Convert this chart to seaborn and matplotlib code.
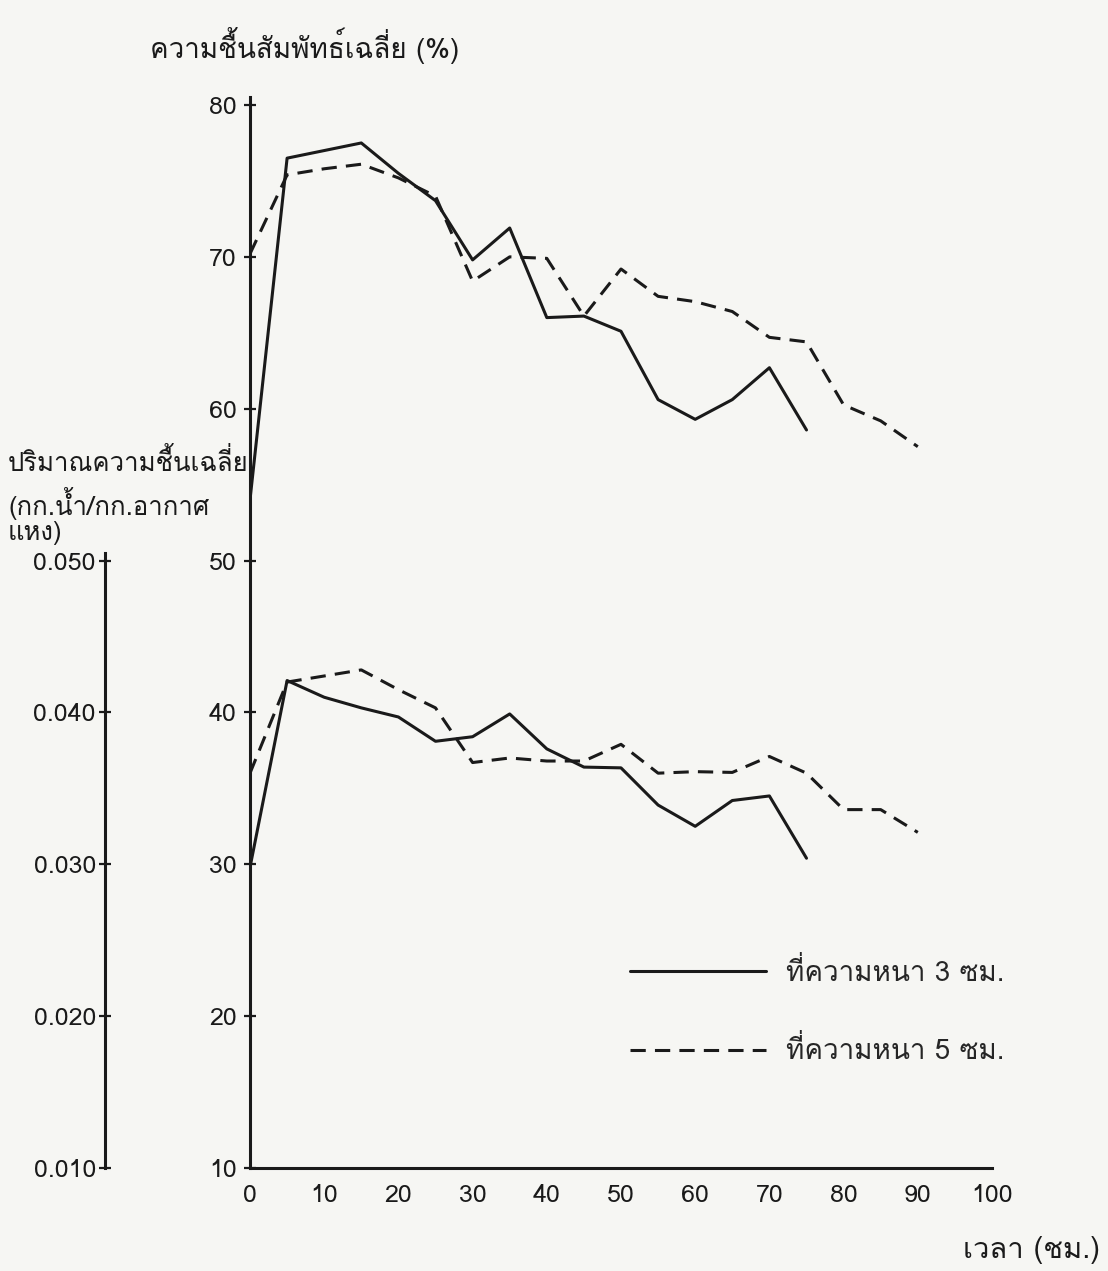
import numpy as np
import pandas as pd
import matplotlib
matplotlib.use("Agg")
import matplotlib.pyplot as plt
import seaborn as sns
from matplotlib import font_manager as fm
from matplotlib.ft2font import FT2Font
from matplotlib.ticker import FormatStrFormatter

# ---------------- data ----------------
time_3cm = [0, 5, 10, 15, 20, 25, 30, 35, 40, 45, 50, 55, 60, 65, 70, 75]
time_5cm = [0, 5, 10, 15, 20, 25, 30, 35, 40, 45, 50, 55, 60, 65, 70, 75, 80, 85, 90]

rh_3cm = [54.0, 76.5, 77.0, 77.5, 75.5, 73.7, 69.8, 71.9, 66.0, 66.1, 65.1,
          60.6, 59.3, 60.6, 62.7, 58.6]
rh_5cm = [70.2, 75.4, 75.8, 76.1, 75.2, 74.0, 68.4, 70.0, 69.9, 66.1, 69.2,
          67.4, 67.05, 66.4, 64.7, 64.4, 60.25, 59.2, 57.5]

hr_3cm = [0.0298, 0.0421, 0.0410, 0.0403, 0.0397, 0.0381, 0.0384, 0.0399,
          0.0376, 0.0364, 0.03635, 0.0339, 0.0325, 0.0342, 0.0345, 0.0304]
hr_5cm = [0.0360, 0.0420, 0.0424, 0.0428, 0.0415, 0.0403, 0.0367, 0.0370,
          0.0368, 0.0368, 0.0379, 0.0360, 0.0361, 0.03605, 0.0371, 0.0360,
          0.0336, 0.0336, 0.0321]

x_ticks = [0, 10, 20, 30, 40, 50, 60, 70, 80, 90, 100]
rh_ticks = [10, 20, 30, 40, 50, 60, 70, 80]
hr_ticks = [0.010, 0.020, 0.030, 0.040, 0.050]

label_3 = "ที่ความหนา 3 ซม."
label_5 = "ที่ความหนา 5 ซม."
title_rh = "ความชื้นสัมพัทธ์เฉลี่ย (%)"
hr_label = ["ปริมาณความชื้นเฉลี่ย", "(กก.น้ำ/กก.อากาศ", "แหง)"]
x_label = "เวลา (ชม.)"

# ---------------- fonts ----------------
def find_thai_font():
    seen = set()
    for f in fm.fontManager.ttflist:
        if f.name in seen:
            continue
        seen.add(f.name)
        try:
            ft = FT2Font(f.fname)
            cmap = ft.get_charmap()
            if ord("ก") in cmap and ord("ช") in cmap:
                return f.name
        except Exception:
            pass
    return None

sns.set_theme(style="white")
thai = find_thai_font()
families = ([thai] if thai else []) + ["DejaVu Sans"]
plt.rcParams["font.family"] = families

INK = "#1a1a1a"
BG = "#f6f6f3"

fig = plt.figure(figsize=(11.08, 12.71), dpi=100, facecolor=BG)
ax = fig.add_axes([250/1108, 1-1168/1271, (992-250)/1108, (1168-105)/1271])
ax.set_facecolor(BG)

df3 = pd.DataFrame({"t": time_3cm, "rh": rh_3cm, "hr": hr_3cm})
df5 = pd.DataFrame({"t": time_5cm, "rh": rh_5cm, "hr": hr_5cm})

lw = 2.2
DASH = (5, 3)
sns.lineplot(data=df3, x="t", y="rh", ax=ax, color=INK, lw=lw, label=label_3)
sns.lineplot(data=df5, x="t", y="rh", ax=ax, color=INK, lw=lw,
             label=label_5).lines[-1].set_dashes(DASH)

ax.set_xlim(0, 100)
ax.set_ylim(10, 80)
ax.set_xticks(x_ticks)
ax.set_yticks(rh_ticks)
ax.set_xlabel("")
ax.set_ylabel("")
for s in ["top", "right"]:
    ax.spines[s].set_visible(False)
for s in ["left", "bottom"]:
    ax.spines[s].set_color(INK)
    ax.spines[s].set_linewidth(2.2)
ax.spines["left"].set_bounds(10, 80.5)
ax.tick_params(axis="both", direction="inout", length=9, width=1.6,
               colors=INK, labelsize=18, pad=7)
ax.tick_params(axis="y", pad=5)

# second (humidity ratio) axis on the far left, same scale as RH axis
ax2 = ax.twinx()
ax2.set_ylim(0.010, 0.080)
ax2.patch.set_visible(False)
sns.lineplot(data=df3, x="t", y="hr", ax=ax2, color=INK, lw=lw, legend=False)
l = sns.lineplot(data=df5, x="t", y="hr", ax=ax2, color=INK, lw=lw, legend=False)
l.lines[-1].set_dashes(DASH)
ax2.set_xlabel("")
ax2.set_ylabel("")
ax2.yaxis.set_ticks_position("left")
ax2.spines["left"].set_position(("axes", -(250-105)/742))
ax2.spines["left"].set_bounds(0.010, 0.0505)
ax2.spines["left"].set_linewidth(2.2)
ax2.spines["left"].set_color(INK)
for s in ["top", "right", "bottom"]:
    ax2.spines[s].set_visible(False)
ax2.set_yticks(hr_ticks)
ax2.yaxis.set_major_formatter(FormatStrFormatter("%.3f"))
ax2.tick_params(axis="y", direction="inout", length=9, width=1.6,
                colors=INK, labelsize=18, pad=2)

# legend
leg = ax.legend(loc="upper left", bbox_to_anchor=((605-250)/742, (1168-933)/1063),
                frameon=False, handlelength=4.9, handletextpad=0.7,
                labelspacing=1.78, fontsize=20)
for h in leg.get_lines():
    h.set_linewidth(2.2)
leg.get_lines()[1].set_dashes(DASH)

# texts
fig.text(150/1108, 1-45/1271, title_rh, fontsize=20, color=INK,
         ha="left", va="center")
ys = [462, 503, 533]
for t, y in zip(hr_label, ys):
    fig.text(8/1108, 1-y/1271, t, fontsize=18.5, color=INK, ha="left", va="center")
fig.text(1100/1108, 1-1250/1271, x_label, fontsize=21, color=INK,
         ha="right", va="center")

fig.savefig("out.png", dpi=100, facecolor=BG)
